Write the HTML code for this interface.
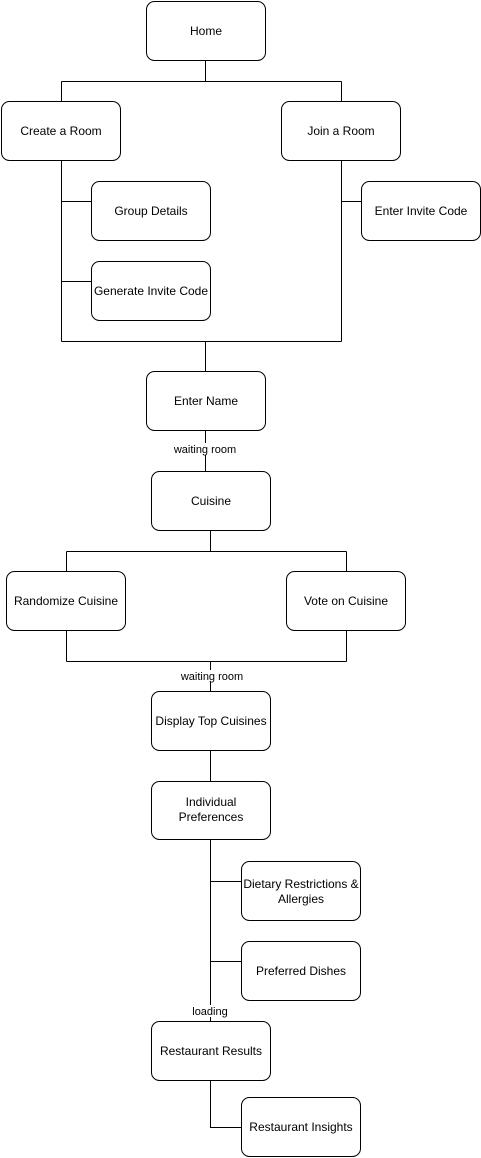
<!DOCTYPE html>
<html><head><meta charset="utf-8"><style>
html,body{margin:0;padding:0;background:#fff;}
svg{display:block;}
text{font-family:"Liberation Sans",Arial,sans-serif;font-size:12px;fill:#000;}
.l{font-size:11px;}
</style></head><body>
<svg width="481" height="1158" viewBox="0 0 481 1158" xmlns="http://www.w3.org/2000/svg">
<g fill="none" stroke="#000" stroke-width="1">
<path d="M205.5 60V81.5M61.5 81.5H341.5M61.5 81.5V101M341.5 81.5V101"/>
<path d="M61.5 160V341.5M61.5 201.5H91M61.5 281.5H91"/>
<path d="M341.5 160V341.5M341.5 201.5H361"/>
<path d="M61.5 341.5H341.5M205.5 341.5V371"/>
<path d="M205.5 431V471"/>
<path d="M210.5 531V551.5M66.5 551.5H346.5M66.5 551.5V571M346.5 551.5V571"/>
<path d="M66.5 631V661.5M346.5 631V661.5M66.5 661.5H346.5M210.5 661.5V691"/>
<path d="M210.5 751V781"/>
<path d="M210.5 839V1021M210.5 881.5H241M210.5 961.5H241"/>
<path d="M210.5 1081V1127.5H241"/>
</g>
<g fill="#fff" stroke="#000" stroke-width="1">
<rect x="146.5" y="1.5" width="119" height="59" rx="8"/>
<rect x="1.5" y="101.5" width="119" height="59" rx="8"/>
<rect x="281.5" y="101.5" width="119" height="59" rx="8"/>
<rect x="91.5" y="181.5" width="119" height="59" rx="8"/>
<rect x="91.5" y="261.5" width="119" height="59" rx="8"/>
<rect x="361.5" y="181.5" width="119" height="59" rx="8"/>
<rect x="146.5" y="371.5" width="119" height="59" rx="8"/>
<rect x="151.5" y="471.5" width="119" height="59" rx="8"/>
<rect x="6.5" y="571.5" width="119" height="59" rx="8"/>
<rect x="286.5" y="571.5" width="119" height="59" rx="8"/>
<rect x="151.5" y="691.5" width="119" height="59" rx="8"/>
<rect x="151.5" y="781.5" width="119" height="58" rx="8"/>
<rect x="241.5" y="861.5" width="119" height="59" rx="8"/>
<rect x="241.5" y="941.5" width="119" height="59" rx="8"/>
<rect x="151.5" y="1021.5" width="119" height="59" rx="8"/>
<rect x="241.5" y="1097.5" width="119" height="59" rx="8"/>
</g>
<g fill="#fff">
<rect x="172" y="443" width="66" height="12"/>
<rect x="178" y="670" width="68" height="12"/>
<rect x="190" y="1005" width="40" height="12"/>
</g>
<g text-anchor="middle">
<text x="206" y="35">Home</text>
<text x="61" y="135">Create a Room</text>
<text x="341" y="135">Join a Room</text>
<text x="151" y="215">Group Details</text>
<text x="151" y="295">Generate Invite Code</text>
<text x="421" y="215">Enter Invite Code</text>
<text x="206" y="405">Enter Name</text>
<text x="211" y="505">Cuisine</text>
<text x="66" y="605">Randomize Cuisine</text>
<text x="346" y="605">Vote on Cuisine</text>
<text x="211" y="725">Display Top Cuisines</text>
<text x="211" y="806">Individual</text>
<text x="211" y="821">Preferences</text>
<text x="301" y="888">Dietary Restrictions &amp;</text>
<text x="301" y="903">Allergies</text>
<text x="301" y="975">Preferred Dishes</text>
<text x="211" y="1055">Restaurant Results</text>
<text x="301" y="1131">Restaurant Insights</text>
<text class="l" x="205" y="453">waiting room</text>
<text class="l" x="212" y="680">waiting room</text>
<text class="l" x="210" y="1015">loading</text>
</g>
</svg>
</body></html>
